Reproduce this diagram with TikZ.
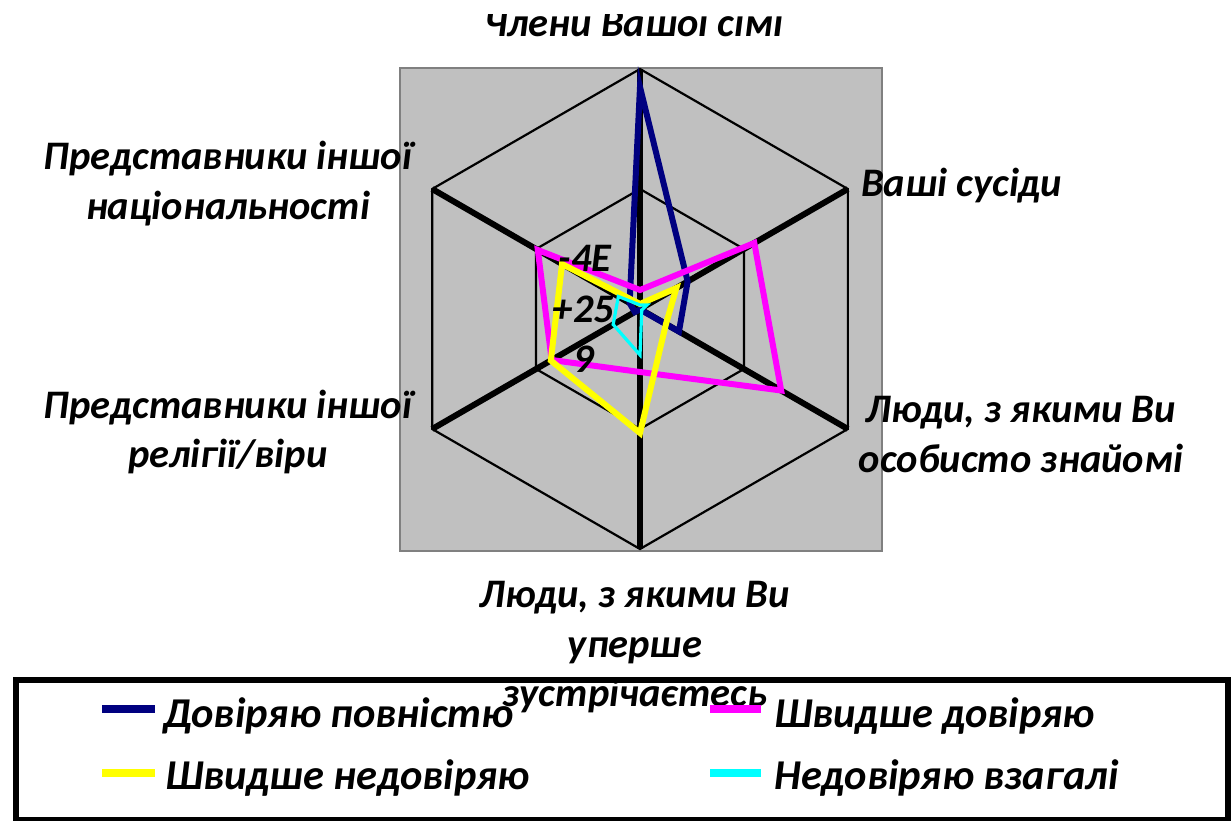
\documentclass[tikz,border=0pt]{standalone}
\usepackage{fontspec}
\setmainfont{Carlito}
\definecolor{plotgray}{HTML}{C0C0C0}
\definecolor{framegray}{HTML}{808080}
\definecolor{sernavy}{HTML}{000080}
\definecolor{sermag}{HTML}{FF00FF}
\definecolor{seryel}{HTML}{FFFF00}
\definecolor{sercyan}{HTML}{00FFFF}
\begin{document}
\begin{tikzpicture}[x=1pt,y=-1pt,
  lab/.style={font=\fontsize{40.5}{50}\selectfont\bfseries\itshape, inner sep=0pt, anchor=base},
  leglab/.style={font=\fontsize{42.5}{50}\selectfont\bfseries\itshape, inner sep=0pt, anchor=base west},
  ring/.style={draw=black, line width=2.2pt},
  axisline/.style={draw=black, line width=6pt},
  ser/.style={line width=6pt, line join=miter},
  legline/.style={line width=7.5pt}]
\useasboundingbox (0,0) rectangle (1232,821);
\fill[white] (0,0) rectangle (1232,821);
% plot area
\node[draw=framegray, fill=plotgray, line width=2pt, minimum width=482pt, minimum height=483pt, inner sep=0pt, anchor=north west] (plotarea) at (399,67) {};
\coordinate (O) at (640,309);
\begin{scope}[shift={(O)}]
  \draw[ring] (-90:120) -- (-30:120) -- (30:120) -- (90:120) -- (150:120) -- (210:120) -- cycle;
  \draw[ring] (-90:240) -- (-30:240) -- (30:240) -- (90:240) -- (150:240) -- (210:240) -- cycle;
  \foreach \a in {-90,-30,30,90,150,210} \draw[axisline] (0,0) -- (\a:240);
  % series (top, UR, LR, bottom, LL, UL)
  \draw[ser, sernavy] (-90:222) -- (-30:55) -- (30:45) -- (90:0.5) -- (150:6) -- (210:12) -- cycle;
  \draw[ser, sermag] (-90:19) -- (-30:132) -- (30:163) -- (90:63) -- (150:102) -- (210:118) -- cycle;
  \draw[ser, seryel] (-90:5) -- (-30:42) -- (30:30) -- (90:124) -- (150:103) -- (210:90) -- cycle;
  \draw[ser, sercyan, line width=3.2pt] (-90:4) -- (-30:8) -- (30:2) -- (90:46) -- (150:31) -- (210:25) -- cycle;
\end{scope}
% scale labels
\node[lab] (t1) at (585,272) {-4E};
\node[lab] (t2) at (583.5,322) {+25};
\node[lab] (t3) at (584,372) {9};
% axis labels
\begin{scope}
  \clip (0,15) rectangle (1232,60);
  \node[lab] (ltop) at (634,37) {Члени Вашої сімі};
\end{scope}
\node[lab, anchor=base west] (lnbr) at (861,197) {Ваші сусіди};
\node[lab] (lpers1) at (1021,422) {Люди, з якими Ви};
\node[lab] (lpers2) at (1021,472) {особисто знайомі};
\node[lab] (lnat1) at (228,170) {Представники іншої};
\node[lab] (lnat2) at (228,220) {національності};
\node[lab] (lrel1) at (228,418) {Представники іншої};
\node[lab] (lrel2) at (228,467) {релігії/віри};
\node[lab] (lfirst1) at (635,607) {Люди, з якими Ви};
\node[lab] (lfirst2) at (635,657) {уперше};
% legend box
\node[draw=black, fill=white, line width=5.5pt, minimum width=1212pt, minimum height=140pt, inner sep=0pt, anchor=north west] (legend) at (13,677) {};
\begin{scope}
  \clip (0,600) rectangle (1232,712);
  \node[lab] (lfirst3) at (635,706) {зустрічаєтесь};
\end{scope}
% legend entries
\coordinate (k1a) at (102,709); \coordinate (k1b) at (155,709);
\coordinate (k2a) at (710,709); \coordinate (k2b) at (761,709);
\coordinate (k3a) at (102,773); \coordinate (k3b) at (155,773);
\coordinate (k4a) at (710,773); \coordinate (k4b) at (761,773);
\draw[legline, sernavy] (k1a) -- (k1b);
\draw[legline, sermag] (k2a) -- (k2b);
\draw[legline, seryel] (k3a) -- (k3b);
\draw[legline, sercyan] (k4a) -- (k4b);
\node[leglab] (e1) at (163,727) {Довіряю повністю};
\node[leglab] (e2) at (774,727) {Швидше довіряю};
\node[leglab] (e3) at (165,789) {Швидше недовіряю};
\node[leglab] (e4) at (774,789) {Недовіряю взагалі};
\end{tikzpicture}
\end{document}
